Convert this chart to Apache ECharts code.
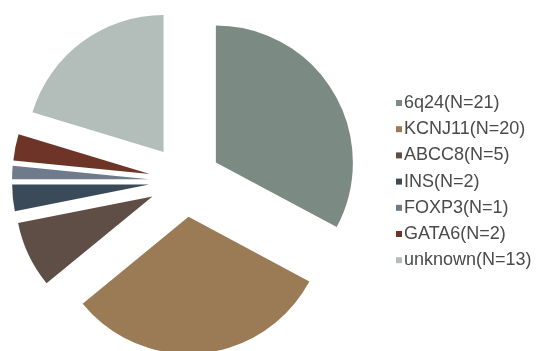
<!DOCTYPE html>
<html><head><meta charset="utf-8">
<script src="https://cdn.jsdelivr.net/npm/echarts@6/dist/echarts.min.js"></script>
<style>html,body{margin:0;padding:0;background:#fff}#c{width:538px;height:351px}</style>
</head><body><div id="c"></div>
<script>
const categories = ['6q24', 'KCNJ11', 'ABCC8', 'INS', 'FOXP3', 'GATA6', 'unknown'];
const counts = [21, 20, 5, 2, 1, 2, 13];
const colors = ['#7b8a83', '#9b7b55', '#5f4e45', '#3b4a58', '#6f7a8a', '#6e3428', '#b3bdb9'];
const labels = categories.map((c, i) => c + '(N=' + counts[i] + ')');

const chart = echarts.init(document.getElementById('c'), null, {renderer: 'canvas'});
chart.setOption({
  animation: false,
  color: colors,
  legend: {
    orient: 'vertical',
    left: 391, top: 89,
    itemWidth: 6, itemHeight: 6, itemGap: 8.2,
    icon: 'rect',
    data: labels,
    textStyle: {fontFamily: 'Liberation Sans, Arial, sans-serif', fontSize: 18, lineHeight: 18, color: '#4a4a4a', padding: [0,0,0,-3]}
  },
  series: [{
    type: 'pie',
    center: [185, 181],
    radius: [0, 137],
    startAngle: 90,
    clockwise: true,
    selectedMode: 'multiple',
    selectedOffset: 36,
    label: {show: false},
    labelLine: {show: false},
    emphasis: {disabled: true},
    itemStyle: {borderWidth: 0},
    data: labels.map((n, i) => ({name: n, value: counts[i], selected: true}))
  }]
});
</script></body></html>
